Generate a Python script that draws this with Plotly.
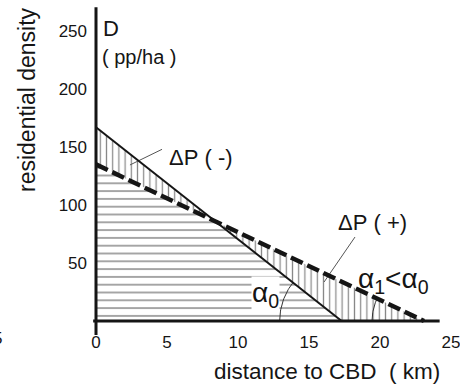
import numpy as np
import plotly.graph_objects as go

# ---- data ----
x_ticks = [0, 5, 10, 15, 20, 25]
y_ticks = [50, 100, 150, 200, 250]
# initial density gradient (solid): intercept on D axis and on distance axis
solid_d0, solid_x0 = 167.0, 17.3
# flatter gradient (dashed)
dash_d0, dash_x0 = 135.0, 23.1
# axis extents
x_axis_ext = [-0.2, 24.2]
y_axis_ext = [-12.0, 270.5]
# leader lines
lead_minus = ([4.65, 2.39], [148.0, 134.5])
lead_plus = ([18.24, 16.06], [72.4, 33.6])

# ---- geometry helpers ----
SX, SY = 14.2, 1.16  # px per unit
L, B, W, H = 60, 40, 460, 385
plot_w, plot_h = W - L, H - B
x0_px, y0_px = 96, 321
xr = [(L - x0_px) / SX, (W - x0_px) / SX]
yr = [-(plot_h - y0_px) / SY, y0_px / SY]

# intersection of the two lines
k1 = solid_d0 / solid_x0
k2 = dash_d0 / dash_x0
xi = (solid_d0 - dash_d0) / (k1 - k2)
yi = solid_d0 - k1 * xi

INK = "#151515"
HATCH = "#111111"
FONT = "Liberation Sans, Arial, Helvetica, sans-serif"

fig = go.Figure()

# horizontal hatched area (below both lines)
fig.add_trace(go.Scatter(
    x=[0, 0, xi, solid_x0, 0], y=[0, dash_d0, yi, 0, 0],
    fill="toself", mode="lines", line=dict(width=0),
    fillcolor="rgba(0,0,0,0)",
    fillpattern=dict(shape="-", size=7.8, solidity=0.19, fgcolor=HATCH, bgcolor="rgba(0,0,0,0)"),
    hoverinfo="skip", showlegend=False))
# vertical hatched areas (between lines)
fig.add_trace(go.Scatter(
    x=[0, 0, xi, 0], y=[dash_d0, solid_d0, yi, dash_d0],
    fill="toself", mode="lines", line=dict(width=0),
    fillcolor="rgba(0,0,0,0)",
    fillpattern=dict(shape="|", size=6.2, solidity=0.2, fgcolor=HATCH, bgcolor="rgba(0,0,0,0)"),
    hoverinfo="skip", showlegend=False))
fig.add_trace(go.Scatter(
    x=[xi, solid_x0, dash_x0, xi], y=[yi, 0, 0, yi],
    fill="toself", mode="lines", line=dict(width=0),
    fillcolor="rgba(0,0,0,0)",
    fillpattern=dict(shape="|", size=6.2, solidity=0.2, fgcolor=HATCH, bgcolor="rgba(0,0,0,0)"),
    hoverinfo="skip", showlegend=False))

# angle arcs (circular in pixel space)
def arc(cx, d0, xint, r_px):
    ang = np.degrees(np.arctan2(d0 * SY, xint * SX))
    t = np.radians(np.linspace(180, 180 - ang, 30))
    return cx + r_px * np.cos(t) / SX, r_px * np.sin(t) / SY

ax0, ay0 = arc(solid_x0, solid_d0, solid_x0, 62)
ax1, ay1 = arc(dash_x0, dash_d0, dash_x0, 52)
for ax_, ay_ in [(ax0, ay0), (ax1, ay1)]:
    fig.add_trace(go.Scatter(x=ax_, y=ay_, mode="lines",
                             line=dict(color="#333", width=1),
                             hoverinfo="skip", showlegend=False))

# leader lines
for lx, ly in [lead_minus, lead_plus]:
    fig.add_trace(go.Scatter(x=lx, y=ly, mode="lines",
                             line=dict(color="#555", width=1),
                             hoverinfo="skip", showlegend=False))

# main lines
fig.add_trace(go.Scatter(x=[0, solid_x0], y=[solid_d0, 0], mode="lines",
                         line=dict(color=INK, width=2), showlegend=False))
fig.add_trace(go.Scatter(x=[0, dash_x0], y=[dash_d0, 0], mode="lines",
                         line=dict(color=INK, width=4.5, dash="13px,5px"),
                         showlegend=False))

# axis lines
fig.add_trace(go.Scatter(x=x_axis_ext, y=[0, 0], mode="lines",
                         line=dict(color=INK, width=3), showlegend=False))
fig.add_trace(go.Scatter(x=[0, 0], y=y_axis_ext, mode="lines",
                         line=dict(color=INK, width=3), showlegend=False))

ann = []
def add(text, x, y, size, xanchor="center", yanchor="middle",
        xref="x", yref="y", **kw):
    ann.append(dict(text=text, x=x, y=y, xref=xref, yref=yref, showarrow=False,
                    xanchor=xanchor, yanchor=yanchor,
                    font=dict(family=FONT, size=size, color=INK), **kw))

def px2x(p): return (p - x0_px) / SX
def px2y(p): return (y0_px - p) / SY

add("D", px2x(101), px2y(28), 22, xanchor="left")
add("(\u00a0pp/ha\u00a0)", px2x(100), px2y(57), 20, xanchor="left")
add("\u0394P\u00a0(\u00a0-)", px2x(201), px2y(157), 22)
add("\u0394P\u00a0(\u00a0+)", px2x(372), px2y(222), 22)
add("\u03b1<sub>1</sub>&lt;\u03b1<sub>0</sub>", px2x(356), px2y(280), 28,
    xanchor="left")
add("\u03b1<sub>0</sub>", px2x(265), px2y(294), 28,
    bgcolor="white", borderpad=0)
add("residential density", (27 - L) / plot_w, (plot_h - 100) / plot_h, 23,
    xref="paper", yref="paper", textangle=-90)
add("distance to CBD\u00a0\u00a0(\u00a0km)", (327 - L) / plot_w, (plot_h - 371) / plot_h, 22.5,
    xref="paper", yref="paper")
add("5", (4 - L) / plot_w, (plot_h - 338) / plot_h, 17, xanchor="right",
    xref="paper", yref="paper")

fig.update_layout(
    width=W, height=H,
    margin=dict(l=L, r=0, t=0, b=B),
    paper_bgcolor="white", plot_bgcolor="white",
    annotations=ann,
    xaxis=dict(range=xr, tickvals=x_ticks, showgrid=False, zeroline=False,
               showline=False, ticks="", anchor="free",
               position=(plot_h - y0_px) / plot_h,
               ticklabelstandoff=9, ticklabeloverflow="allow",
               tickfont=dict(family=FONT, size=17, color=INK)),
    yaxis=dict(range=yr, tickvals=y_ticks, showgrid=False, zeroline=False,
               showline=False, ticks="", anchor="free",
               position=(x0_px - L) / plot_w,
               ticklabelstandoff=9, ticklabeloverflow="allow",
               tickfont=dict(family=FONT, size=17, color=INK)),
)

fig.write_html("out.html")
